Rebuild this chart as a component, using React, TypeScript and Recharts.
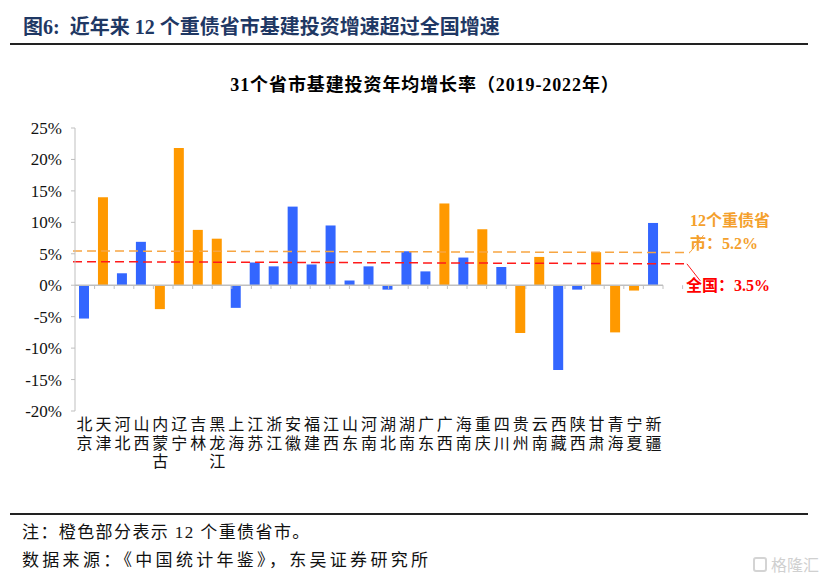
import React from 'react';
import { BarChart, Bar, XAxis, YAxis, Cell, ReferenceLine } from 'recharts';

const provinces = ['北京','天津','河北','山西','内蒙古','辽宁','吉林','黑龙江','上海','江苏','浙江','安徽','福建','江西','山东','河南','湖北','湖南','广东','广西','海南','重庆','四川','贵州','云南','西藏','陕西','甘肃','青海','宁夏','新疆'];
const growth = [-5.3, 14.0, 1.9, 6.9, -3.8, 21.8, 8.8, 7.4, -3.6, 3.6, 3.0, 12.5, 3.3, 9.5, 0.75, 3.0, -0.7, 5.4, 2.2, 13.0, 4.4, 8.9, 2.9, -7.6, 4.5, -13.5, -0.7, 5.25, -7.5, -0.85, 9.9];
const heavyDebt = ['天津','内蒙古','辽宁','吉林','黑龙江','广西','重庆','贵州','云南','甘肃','青海','宁夏'];
const yTicks = [-20, -15, -10, -5, 0, 5, 10, 15, 20, 25];
const heavyAvgLine = [5.45, 5.2];
const nationalLine = [3.75, 3.4];

const data = provinces.map((p, i) => ({ name: p, value: growth[i] }));
const boundaries = provinces.map((_, i) => i + 1);

const BLUE = '#3366FF';
const ORANGE = '#FF9900';
const AXIS = '#BFBFBF';
const SERIF = "'Liberation Serif', 'Noto Sans CJK SC', serif";

const XTick = (props: any) => {
  const { x, y, payload } = props;
  const chars: string[] = String(payload.value).split('');
  return (
    <g>
      {chars.map((c, i) => (
        <text key={i} x={x} y={y + 19 + i * 18.5} textAnchor="middle" fontSize={16} fontFamily={SERIF} fill="#111">{c}</text>
      ))}
    </g>
  );
};

export default function App() {
  return (
    <div style={{ position: 'relative', width: 828, height: 585, margin: -8, background: '#fff', overflow: 'hidden' }}>
      <div style={{ position: 'absolute', left: 23, top: 13, fontSize: 20, fontWeight: 'bold', color: '#1F3864', fontFamily: SERIF, whiteSpace: 'nowrap', lineHeight: '28px' }}>
        图6:&nbsp; 近年来 12 个重债省市基建投资增速超过全国增速
      </div>
      <div style={{ position: 'absolute', left: 10, top: 43, width: 798, height: 2, background: '#222' }} />
      <div style={{ position: 'absolute', left: 11, width: 828, top: 70, textAlign: 'center', fontSize: 18, letterSpacing: 0.9, fontWeight: 'bold', color: '#000', fontFamily: SERIF, whiteSpace: 'nowrap' }}>
        31个省市基建投资年均增长率（2019-2022年）
      </div>
      <div style={{ position: 'absolute', left: 0, top: 0 }}>
        <BarChart width={828} height={585} data={data} margin={{ top: 128, left: 15, right: 165, bottom: 114 }}>
          <XAxis dataKey="name" interval={0} axisLine={false} tickLine={false} tickSize={0} tickMargin={0} height={60} tick={(p: any) => <XTick {...p} />} />
          <XAxis xAxisId="b" type="number" domain={[0, 31]} allowDataOverflow hide />
          <YAxis domain={[-20, 25]} ticks={yTicks} interval={0} width={60} axisLine={{ stroke: AXIS }} tickLine={{ stroke: AXIS }} tickSize={4} tickMargin={9} tickFormatter={(v: number) => `${v}%`} tick={{ fontSize: 17, fontFamily: "'Liberation Serif', serif", fill: '#111' }} />
          <ReferenceLine y={0} stroke={AXIS} strokeWidth={1.5} />
          {boundaries.map((b) => (
            <ReferenceLine key={b} xAxisId="b" segment={[{ x: b, y: 0 }, { x: b, y: -0.6 }]} stroke={AXIS} ifOverflow="visible" />
          ))}
          <Bar dataKey="value" barSize={10} isAnimationActive={false}>
            {data.map((d, i) => (
              <Cell key={i} fill={heavyDebt.includes(d.name) ? ORANGE : BLUE} />
            ))}
          </Bar>
          <ReferenceLine xAxisId="b" segment={[{ x: -0.1, y: heavyAvgLine[0] }, { x: 31.37, y: heavyAvgLine[1] }]} stroke="#F7A541" strokeWidth={1.5} strokeDasharray="9 5" ifOverflow="visible" />
          <ReferenceLine xAxisId="b" segment={[{ x: -0.1, y: nationalLine[0] }, { x: 31.3, y: nationalLine[1] }]} stroke="#FF1A1A" strokeWidth={1.5} strokeDasharray="9 5" ifOverflow="visible" />
          <ReferenceLine xAxisId="b" segment={[{ x: 31.37, y: heavyAvgLine[1] }, { x: 32.07, y: 7.95 }]} stroke="#F7A541" strokeWidth={1} ifOverflow="visible" />
          <ReferenceLine xAxisId="b" segment={[{ x: 31.22, y: nationalLine[1] }, { x: 31.9, y: 0.7 }]} stroke="#FF1A1A" strokeWidth={1} ifOverflow="visible" />
        </BarChart>
      </div>
      <div style={{ position: 'absolute', left: 690, top: 209, fontSize: 16, fontWeight: 'bold', color: '#F4A02C', fontFamily: SERIF, whiteSpace: 'nowrap', lineHeight: '23px' }}>
        12个重债省<br />市：5.2%
      </div>
      <div style={{ position: 'absolute', left: 686, top: 272, fontSize: 16, fontWeight: 'bold', color: '#FF0000', fontFamily: SERIF, whiteSpace: 'nowrap' }}>
        全国：3.5%
      </div>
      <div style={{ position: 'absolute', left: 10, top: 513, width: 798, height: 2, background: '#222' }} />
      <div style={{ position: 'absolute', left: 22, top: 522, fontSize: 17, letterSpacing: 1.4, color: '#111', fontFamily: SERIF, whiteSpace: 'nowrap', lineHeight: '22px' }}>
        注：橙色部分表示 12 个重债省市。
      </div>
      <div style={{ position: 'absolute', left: 22, top: 550, fontSize: 17, letterSpacing: 3.3, color: '#111', fontFamily: SERIF, whiteSpace: 'nowrap', lineHeight: '22px' }}>
        数据来源：《中国统计年鉴》，东吴证券研究所
      </div>
      <div style={{ position: 'absolute', left: 753, top: 555, display: 'flex', alignItems: 'center', gap: 4 }}>
        <div style={{ width: 14, height: 15, border: '2px solid #D4D4D4', borderRadius: 3, boxSizing: 'border-box' }} />
        <div style={{ fontSize: 16, color: '#D0D0D0', fontFamily: "'Noto Sans CJK SC', sans-serif", whiteSpace: 'nowrap', lineHeight: '18px' }}>格隆汇</div>
      </div>
    </div>
  );
}
